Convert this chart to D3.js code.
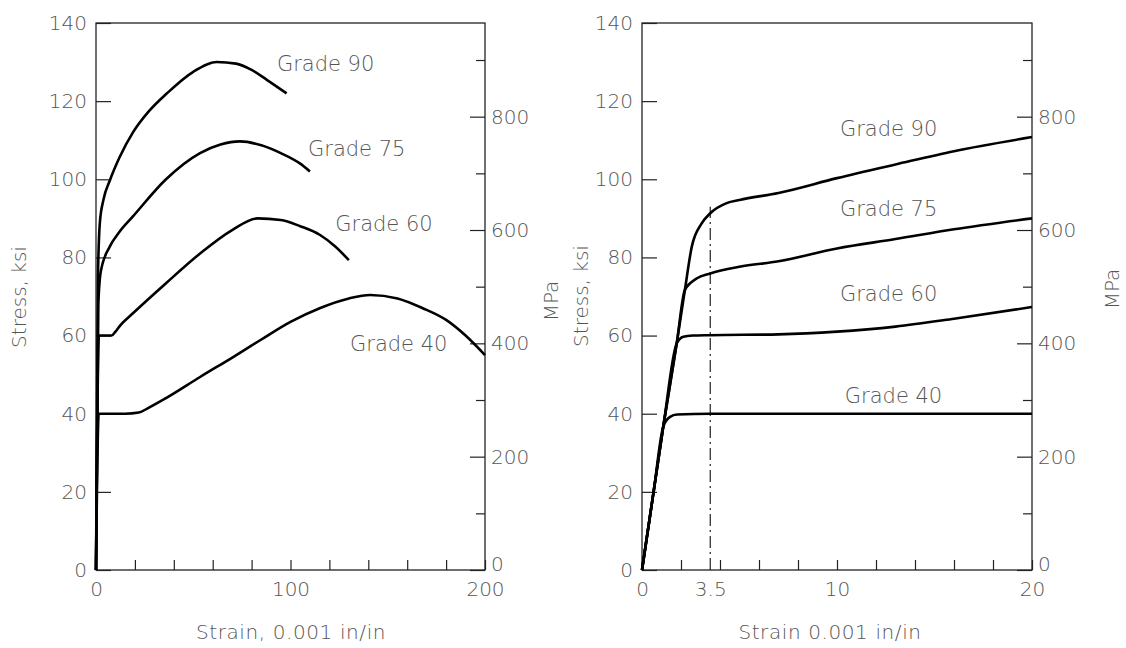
<!DOCTYPE html>
<html>
<head>
<meta charset="utf-8">
<script src="https://cdn.jsdelivr.net/npm/d3@7"></script>
<style>
  body { margin: 0; background: #fff; }
  text { font-family: "DejaVu Sans", sans-serif; fill: #555; font-weight: 300; }
</style>
</head>
<body>
<svg id="chart" width="1126" height="648"></svg>
<script>
// grade names, top to bottom
var gradeNames = ["Grade 90", "Grade 75", "Grade 60", "Grade 40"];

// left panel: full stress-strain curves [strain 0.001 in/in, stress ksi]
var leftGrade90 = [[0,0],[1,75],[2,89],[3.8,94.7],[7.2,99.8],[12,105.5],[19,112],[27,117.3],[36.5,122],[50,127.5],[62,130],[72,129.6],[80,128],[88,125.4],[98,122]];
var leftGrade75 = [[0,0],[1.2,68],[2.5,76.5],[7,82.7],[12,86.5],[19,90.5],[36,100],[53.5,106.7],[64,108.9],[74,109.7],[85,108.7],[95,106.7],[105,104],[110,102]];
var leftGrade60 = [[0,0],[1.5,60],[8,60],[10,61],[12.3,62.5],[19,65.7],[36,73.4],[53.5,81],[70,87],[83,90],[95,89.6],[105,88],[115,85.8],[123,82.8],[130,79.3]];
var leftGrade40 = [[0,0],[1.4,40],[15,40],[22,40.3],[27,41.5],[36,44],[53.5,49.4],[70.5,54.5],[85,59],[100,63.5],[115,67],[130,69.5],[141,70.4],[155,69.5],[168,67],[180,64],[190,60],[200,55]];

// right panel: initial part of the curves, all on the same elastic line
var rightGrade90 = [[0,0],[1.09,36.7],[1.78,58],[2.2,71.7],[2.55,82.7],[3.06,88.7],[3.5,91.3],[4.34,93.9],[5,94.7],[7,96.5],[10,100.3],[13,103.8],[16,107.2],[20,110.8]];
var rightGrade75 = [[0,0],[1.09,36.7],[1.78,58],[2.2,71.7],[2.8,74.6],[3.5,75.9],[5,77.6],[7,79],[10,82.3],[13,84.7],[16,87.2],[20,90]];
var rightGrade60 = [[0,0],[1.09,36.7],[1.78,58],[2.12,59.7],[2.6,60],[3.5,60.1],[7,60.3],[10,61],[13,62.3],[16,64.3],[20,67.3]];
var rightGrade40 = [[0,0],[0.6,20.2],[1.09,36.7],[1.44,39.2],[1.8,39.8],[3.5,40],[10,40],[15,40],[20,40]];

// where the grade labels sit, in data units [strain, stress]
var leftLabelAt = [[93,129.3],[109,107.5],[123,88.3],[130.6,57.6]];
var rightLabelAt = [[10.15,112.6],[10.15,92.1],[10.15,70.4],[10.4,44.3]];

// axes
var ksiTicks = [0,20,40,60,80,100,120,140];
var mpaTicks = [0,100,200,300,400,500,600,700,800,900];
var mpaLabels = [0,200,400,600,800];
var leftXTicks = [0,20,40,60,80,100,120,140,160,180,200];
var leftXLabels = [0,100,200];
var rightXTicks = [0,2,4,6,8,10,12,14,16,18,20];
var rightXLabels = [0,3.5,10,20];
var yieldStrain = 3.5;
var yieldLineTop = 93;
var ksiToMpa = 6.895;

var svg = d3.select("#chart");
var yTop = 23, yBottom = 570;

function drawPanel(p) {
  var x = d3.scaleLinear().domain([0, p.xMax]).range([p.x0, p.x1]);
  var y = d3.scaleLinear().domain([0, 140]).range([yBottom, yTop]);
  var yMpa = d3.scaleLinear().domain([0, 140 * ksiToMpa]).range([yBottom, yTop]);
  var g = svg.append("g");

  // frame
  g.append("rect")
    .attr("x", p.x0).attr("y", yTop)
    .attr("width", p.x1 - p.x0).attr("height", yBottom - yTop)
    .attr("fill", "none").attr("stroke", "#222").attr("stroke-width", 1.3);

  // left ksi axis
  var ay = g.append("g")
    .attr("transform", "translate(" + p.x0 + ",0)")
    .call(d3.axisLeft(y).tickValues(ksiTicks).tickSize(-15).tickSizeOuter(0).tickPadding(9));
  ay.select(".domain").remove();
  ay.selectAll("text").style("font-size", "20px");

  // right MPa axis, long ticks where labelled
  var am = g.append("g")
    .attr("transform", "translate(" + p.x1 + ",0)")
    .call(d3.axisRight(yMpa).tickValues(mpaTicks).tickSize(-9).tickSizeOuter(0).tickPadding(6)
      .tickFormat(function (d) { return mpaLabels.indexOf(d) >= 0 ? d : ""; }));
  am.select(".domain").remove();
  am.selectAll(".tick line").attr("x2", function (d) { return mpaLabels.indexOf(d) >= 0 ? -15 : -9; });
  am.selectAll("text").style("font-size", "20px");
  am.selectAll("text").filter(function (d) { return d === 0; }).attr("dy", "0em");

  // x axis ticks, then labels
  var ax = g.append("g")
    .attr("transform", "translate(0," + yBottom + ")")
    .call(d3.axisBottom(x).tickValues(p.xTicks).tickSize(-10).tickSizeOuter(0)
      .tickFormat(function () { return ""; }));
  ax.select(".domain").remove();
  var axl = g.append("g")
    .attr("transform", "translate(0," + yBottom + ")")
    .call(d3.axisBottom(x).tickValues(p.xLabels).tickSize(0).tickPadding(12)
      .tickFormat(function (d) { return d; }));
  axl.select(".domain").remove();
  axl.selectAll("text").style("font-size", "20px");

  g.selectAll(".tick line").attr("stroke", "#222").attr("stroke-width", 1.2);

  // dash-dot marker at the yield strain
  if (p.yieldLine) {
    g.append("line")
      .attr("x1", x(yieldStrain)).attr("x2", x(yieldStrain))
      .attr("y1", y(0)).attr("y2", y(yieldLineTop))
      .attr("stroke", "#222").attr("stroke-width", 1.2)
      .attr("stroke-dasharray", "12,4,2,4");
  }

  var line = d3.line()
    .x(function (d) { return x(d[0]); })
    .y(function (d) { return y(d[1]); })
    .curve(d3.curveMonotoneX);

  p.series.forEach(function (s, i) {
    g.append("path")
      .attr("d", line(s))
      .attr("fill", "none")
      .attr("stroke", "#000")
      .attr("stroke-width", 2.6)
      .attr("stroke-linejoin", "round");

    g.append("text")
      .attr("x", x(p.labelAt[i][0]))
      .attr("y", y(p.labelAt[i][1]))
      .attr("dominant-baseline", "middle")
      .style("font-size", "21px")
      .text(gradeNames[i]);
  });

  // titles
  g.append("text")
    .attr("transform", "translate(" + p.ksiTitle[0] + "," + p.ksiTitle[1] + ") rotate(-90)")
    .attr("text-anchor", "middle").attr("dominant-baseline", "middle")
    .style("font-size", "20px")
    .text("Stress, ksi");

  g.append("text")
    .attr("transform", "translate(" + p.mpaTitle[0] + "," + p.mpaTitle[1] + ") rotate(-90)")
    .attr("text-anchor", "middle").attr("dominant-baseline", "middle")
    .style("font-size", "20px")
    .text("MPa");

  g.append("text")
    .attr("x", p.xTitleX).attr("y", 633)
    .attr("text-anchor", "middle").attr("dominant-baseline", "middle")
    .style("font-size", "20px").style("letter-spacing", "0.6px")
    .text(p.xTitle);
}

drawPanel({
  x0: 96, x1: 485, xMax: 200,
  xTicks: leftXTicks, xLabels: leftXLabels,
  series: [leftGrade90, leftGrade75, leftGrade60, leftGrade40],
  labelAt: leftLabelAt,
  ksiTitle: [20, 297], mpaTitle: [552, 301],
  xTitleX: 291, xTitle: "Strain, 0.001 in/in",
  yieldLine: false
});

drawPanel({
  x0: 642, x1: 1032, xMax: 20,
  xTicks: rightXTicks, xLabels: rightXLabels,
  series: [rightGrade90, rightGrade75, rightGrade60, rightGrade40],
  labelAt: rightLabelAt,
  ksiTitle: [582, 296], mpaTitle: [1113, 289],
  xTitleX: 830, xTitle: "Strain 0.001 in/in",
  yieldLine: true
});
</script>
</body>
</html>
